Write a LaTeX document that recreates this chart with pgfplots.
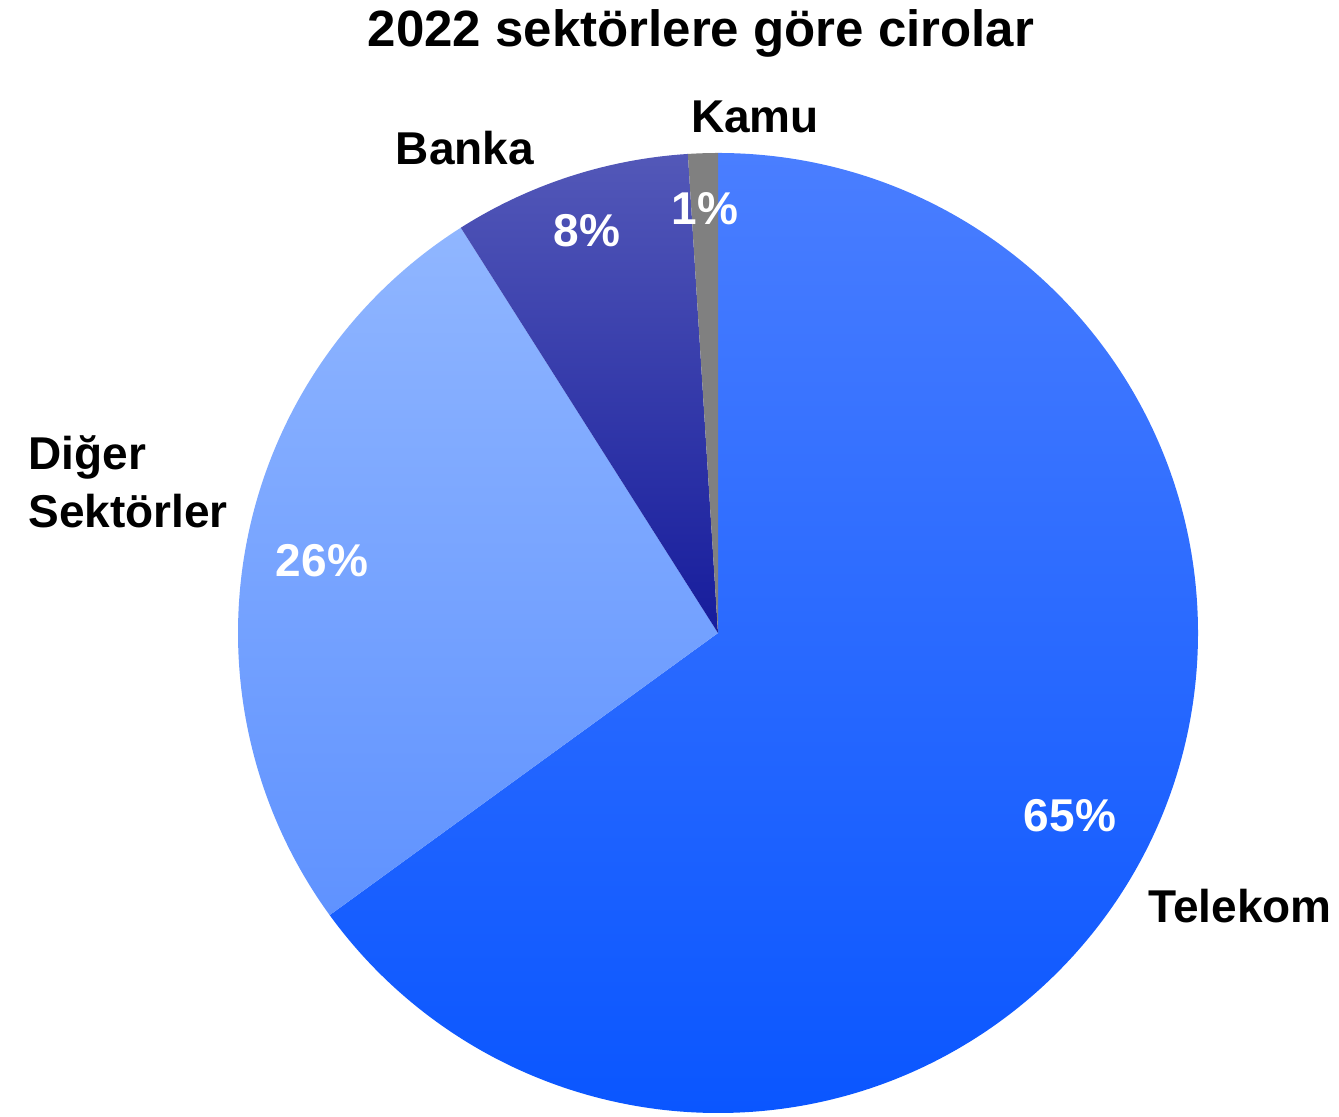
\documentclass[border=0pt]{standalone}
\usepackage{fontspec}
\setmainfont{Liberation Sans}
\usepackage{pgfplots}
\usepackage{pgfplotstable}
\pgfplotsset{compat=1.18}

\pgfplotstableread{
label value
Telekom 65
Diger 26
Banka 8
Kamu 1
}\piedata

\definecolor{telA}{HTML}{4A7EFF}
\definecolor{telB}{HTML}{1166FF}
\definecolor{telC}{HTML}{0A56FF}
\definecolor{digA}{HTML}{90B6FF}
\definecolor{digB}{HTML}{5F92FF}
\definecolor{banA}{HTML}{5358B8}
\definecolor{banB}{HTML}{161C9C}
\definecolor{kamu}{HTML}{808080}

\begin{document}
\begin{tikzpicture}
\pgfplotstablegetelem{0}{value}\of\piedata \let\vA\pgfplotsretval
\pgfplotstablegetelem{1}{value}\of\piedata \let\vB\pgfplotsretval
\pgfplotstablegetelem{2}{value}\of\piedata \let\vC\pgfplotsretval
\pgfplotstablegetelem{3}{value}\of\piedata \let\vD\pgfplotsretval
\pgfmathsetmacro{\aA}{90}
\pgfmathsetmacro{\aB}{\aA-3.6*\vA}
\pgfmathsetmacro{\aC}{\aB-3.6*\vB}
\pgfmathsetmacro{\aD}{\aC-3.6*\vC}
\pgfmathsetmacro{\aE}{\aD-3.6*\vD}
\begin{axis}[x=0.5pt, y=0.5pt, xmin=0, xmax=1339, ymin=0, ymax=1117,
  hide axis, clip=false, scale only axis]
\path (axis cs:0,0) rectangle (axis cs:1339,1117);
\shade[top color=telA, middle color=telB, bottom color=telC]
  (axis cs:718,484) -- ++(\aA:240pt) arc[start angle=\aA, end angle=\aB, radius=240pt] -- cycle;
\shade[top color=digA, bottom color=digB]
  (axis cs:718,484) -- ++(\aB:240pt) arc[start angle=\aB, end angle=\aC, radius=240pt] -- cycle;
\shade[top color=banA, bottom color=banB]
  (axis cs:718,484) -- ++(\aC:240pt) arc[start angle=\aC, end angle=\aD, radius=240pt] -- cycle;
\fill[kamu]
  (axis cs:718,484) -- ++(\aD:240pt) arc[start angle=\aD, end angle=\aE, radius=240pt] -- cycle;
% percentages
\node[anchor=base, text=white, font=\fontsize{23}{27}\selectfont\bfseries] at (axis cs:1070,285) {\vA\%};
\node[anchor=base, text=white, font=\fontsize{23}{27}\selectfont\bfseries] at (axis cs:322,540) {\vB\%};
\node[anchor=base, text=white, font=\fontsize{23}{27}\selectfont\bfseries] at (axis cs:587,870) {\vC\%};
\node[anchor=base, text=white, font=\fontsize{23}{27}\selectfont\bfseries] at (axis cs:705,892) {\vD\%};
% category labels
\node[anchor=base west, inner sep=0pt, font=\fontsize{23}{27}\selectfont\bfseries] at (axis cs:1148,194) {Telekom};
\node[anchor=base west, inner sep=0pt, font=\fontsize{23}{27}\selectfont\bfseries] at (axis cs:28,647) {Diğer};
\node[anchor=base west, inner sep=0pt, font=\fontsize{23}{27}\selectfont\bfseries] at (axis cs:28,589) {Sektörler};
\node[anchor=base, inner sep=0pt, font=\fontsize{23}{27}\selectfont\bfseries] at (axis cs:465,952) {Banka};
\node[anchor=base, inner sep=0pt, font=\fontsize{23}{27}\selectfont\bfseries] at (axis cs:755,984) {Kamu};
% title
\node[anchor=base, inner sep=0pt, font=\fontsize{25.5}{30}\selectfont\bfseries] at (axis cs:701,1070) {2022 sektörlere göre cirolar};
\end{axis}
\end{tikzpicture}
\end{document}
